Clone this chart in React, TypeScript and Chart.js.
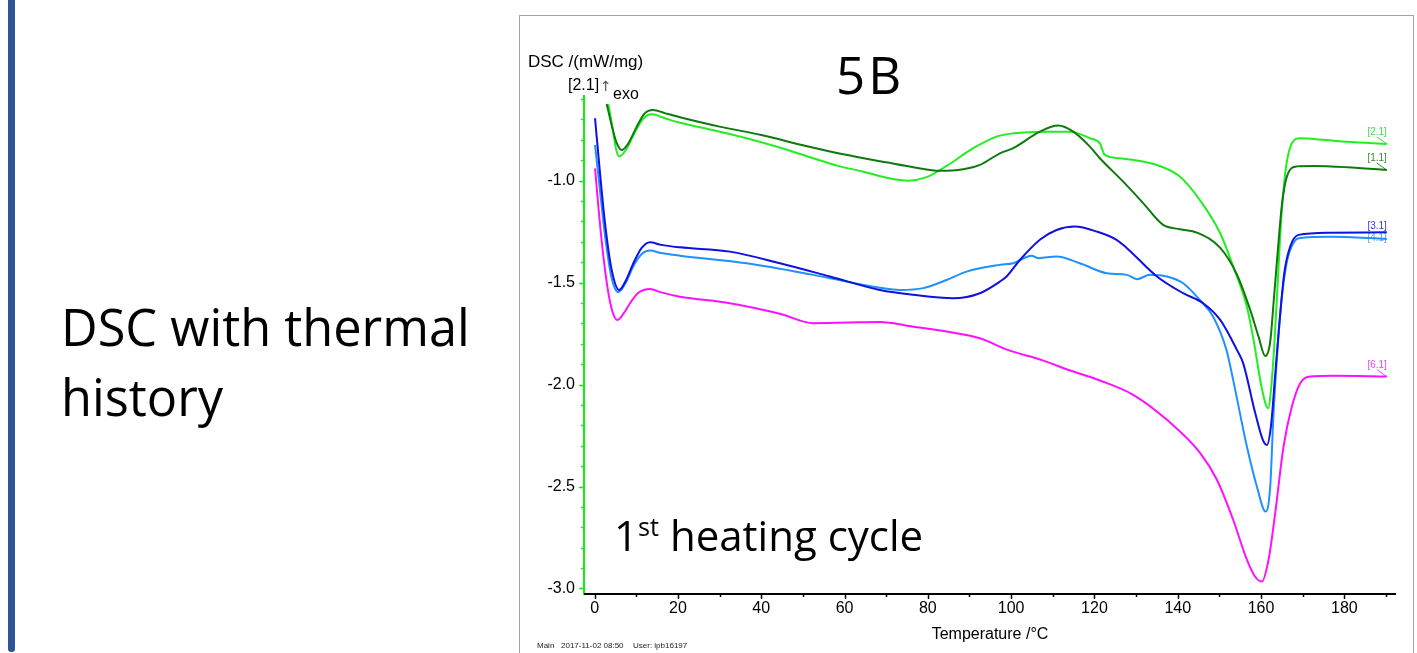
import React, { useEffect, useRef } from "react";
import { Chart, registerables } from "chart.js";

Chart.register(...registerables);

// ---------- data ----------
const seriesLabels = ["[1.1]", "[2.1]", "[3.1]", "[4.1]", "[6.1]"];

const temp11 = [2.9, 4.0, 5.2, 6.5, 8.0, 10.0, 12.0, 14.0, 17.0, 20.5, 30, 40, 50, 60, 70, 76.5, 82.9, 88.5, 92.5, 97.3, 100.5, 106.9, 111.3, 114.9, 118.9, 121.3, 126.9, 131.7, 136.5, 140.6, 144.6, 150.2, 154.2, 157.4, 159.4, 161.0, 162.2, 163.0, 164.0, 165.0, 166.2, 168.6, 172.6, 180.6, 190.2];
const dsc11 = [-0.624, -0.72, -0.81, -0.85, -0.82, -0.74, -0.67, -0.653, -0.67, -0.689, -0.735, -0.776, -0.826, -0.872, -0.91, -0.934, -0.952, -0.944, -0.923, -0.866, -0.841, -0.76, -0.73, -0.76, -0.833, -0.89, -1.005, -1.11, -1.217, -1.238, -1.255, -1.33, -1.46, -1.634, -1.765, -1.86, -1.79, -1.6, -1.35, -1.12, -0.98, -0.93, -0.928, -0.934, -0.948];

const temp21 = [3.3, 4.3, 5.2, 5.9, 7.5, 9.5, 11.5, 13.7, 17, 20.5, 28, 36.5, 44, 52.5, 58, 64.5, 70, 75.3, 79.7, 84.5, 90.9, 96.5, 100.5, 108.5, 114.1, 118.9, 121.3, 122.5, 126.1, 135.7, 140.5, 145.3, 150.2, 153.3, 156.6, 158.2, 160.2, 161.7, 162.5, 163.2, 164.0, 164.8, 165.8, 167.4, 169.4, 175, 180.6, 190.2];
const dsc21 = [-0.625, -0.74, -0.85, -0.882, -0.85, -0.77, -0.7, -0.675, -0.695, -0.716, -0.75, -0.792, -0.835, -0.89, -0.925, -0.956, -0.985, -1.0, -0.983, -0.928, -0.841, -0.784, -0.768, -0.76, -0.76, -0.792, -0.817, -0.874, -0.89, -0.928, -0.98, -1.095, -1.258, -1.42, -1.618, -1.78, -2.02, -2.116, -2.0, -1.8, -1.5, -1.2, -0.964, -0.817, -0.792, -0.8, -0.809, -0.82];

const temp31 = [0.1, 1.3, 2.5, 4.1, 5.9, 7.5, 9.3, 11.3, 13.3, 16, 20.5, 32.5, 44.5, 56.5, 68.5, 76.5, 86.1, 92.5, 97.3, 98.9, 102.1, 106.9, 110.9, 115.3, 120.6, 125.3, 127.8, 135, 141.3, 146.1, 150.2, 154.2, 155.7, 158.6, 160.4, 161.4, 162.4, 163.4, 164.4, 165.6, 167, 169, 176.6, 190.2];
const dsc31 = [-0.694, -0.964, -1.209, -1.438, -1.536, -1.49, -1.405, -1.33, -1.302, -1.315, -1.327, -1.348, -1.405, -1.47, -1.536, -1.56, -1.577, -1.552, -1.495, -1.47, -1.389, -1.29, -1.242, -1.225, -1.25, -1.29, -1.331, -1.47, -1.552, -1.601, -1.683, -1.83, -1.895, -2.14, -2.27, -2.296, -2.2, -1.95, -1.7, -1.45, -1.323, -1.266, -1.255, -1.253];

const temp41 = [0.1, 1.3, 2.5, 4.0, 5.7, 7.5, 9.3, 11.3, 13.3, 16, 20.5, 36.5, 52.5, 66.9, 73.3, 78.9, 84.5, 89.3, 97.3, 100.5, 104.9, 106.5, 110.9, 116.5, 123, 127.8, 130.2, 133.3, 137.4, 141.3, 145.3, 148.5, 151.7, 153.3, 156.6, 159, 161.1, 162.2, 163, 164, 165, 166, 167, 169, 176.6, 190.2];
const dsc41 = [-0.825, -1.05, -1.27, -1.47, -1.547, -1.5, -1.42, -1.36, -1.343, -1.355, -1.368, -1.405, -1.462, -1.52, -1.536, -1.527, -1.487, -1.446, -1.413, -1.405, -1.368, -1.38, -1.372, -1.405, -1.454, -1.462, -1.483, -1.462, -1.47, -1.503, -1.585, -1.667, -1.83, -1.977, -2.304, -2.5, -2.623, -2.5, -2.14, -1.814, -1.569, -1.42, -1.34, -1.282, -1.275, -1.286];

const temp61 = [0.1, 1.0, 2.1, 3.3, 4.4, 5.5, 7.0, 8.5, 10.5, 13.3, 16, 20.5, 32.5, 44.5, 52.5, 60.5, 68.5, 76.5, 84.5, 92.5, 99.2, 107.4, 114, 121.3, 129.3, 137.4, 145.4, 149.4, 153.3, 156.6, 158.5, 160.2, 161.8, 163.4, 165.4, 167.4, 169.4, 171.8, 177.4, 190.2];
const dsc61 = [-0.94, -1.15, -1.372, -1.55, -1.65, -1.683, -1.65, -1.601, -1.55, -1.531, -1.548, -1.569, -1.601, -1.653, -1.699, -1.696, -1.693, -1.716, -1.74, -1.773, -1.83, -1.88, -1.93, -1.98, -2.05, -2.173, -2.336, -2.467, -2.663, -2.859, -2.94, -2.966, -2.859, -2.63, -2.304, -2.108, -1.993, -1.961, -1.957, -1.961];

const xTickValues = [0, 20, 40, 60, 80, 100, 120, 140, 160, 180];
const yTickValues = [-1.0, -1.5, -2.0, -2.5, -3.0];

// ---------- styles ----------
const lineColors = ["#0E7A0E", "#22EE22", "#1010E0", "#2090FF", "#FF10FF"];
const labelColors = ["#3A8A3A", "#44DD44", "#3535E8", "#55A8FF", "#EE44EE"];
const labelDy = [-9, -9, -3, 2, -9];
const labelLeader = [true, true, false, false, true];
const FONT = '"Liberation Sans", Arial, sans-serif';

const toPoints = (xs: number[], ys: number[]) => xs.map((x, i) => ({ x, y: ys[i] }));

const axesPlugin = {
  id: "dscAxes",
  beforeDatasetsDraw(chart: any) {
    const { ctx } = chart;
    ctx.save();
    chart.data.datasets.forEach((ds: any, i: number) => {
      const meta = chart.getDatasetMeta(i);
      const pt = meta.data[meta.data.length - 1];
      if (!pt) return;
      ctx.font = `10px ${FONT}`;
      ctx.fillStyle = labelColors[i];
      ctx.textAlign = "right";
      ctx.textBaseline = "alphabetic";
      ctx.fillText(ds.label, pt.x, pt.y + labelDy[i]);
      if (labelLeader[i]) {
        ctx.strokeStyle = labelColors[i];
        ctx.lineWidth = 1;
        ctx.beginPath();
        ctx.moveTo(pt.x - 10, pt.y - 7);
        ctx.lineTo(pt.x, pt.y);
        ctx.stroke();
      }
    });
    ctx.restore();
  },
  afterDraw(chart: any) {
    const { ctx, chartArea: ca, scales } = chart;
    const xs = scales.x;
    const ys = scales.y;
    ctx.save();
    // y axis (green)
    ctx.strokeStyle = "#10EE10";
    ctx.lineWidth = 2;
    ctx.beginPath();
    ctx.moveTo(ca.left, ca.top);
    ctx.lineTo(ca.left, ca.bottom + 1);
    ctx.stroke();
    ctx.lineWidth = 1.5;
    for (let k = -30; k <= -6; k++) {
      const v = k / 10;
      const py = Math.round(ys.getPixelForValue(v)) + 0.5;
      const len = k % 5 === 0 ? 5 : 3;
      ctx.beginPath();
      ctx.moveTo(ca.left - len, py);
      ctx.lineTo(ca.left, py);
      ctx.stroke();
    }
    // x axis (black)
    ctx.strokeStyle = "#000";
    ctx.lineWidth = 2;
    ctx.beginPath();
    ctx.moveTo(ca.left, ca.bottom);
    ctx.lineTo(ca.right, ca.bottom);
    ctx.stroke();
    ctx.lineWidth = 1.5;
    for (let t = 0; t <= 190; t += 10) {
      const px = Math.round(xs.getPixelForValue(t)) + 0.5;
      const len = t % 20 === 0 ? 5 : 3;
      ctx.beginPath();
      ctx.moveTo(px, ca.bottom);
      ctx.lineTo(px, ca.bottom + len);
      ctx.stroke();
    }
    ctx.restore();
  },
};

export default function App() {
  const canvasRef = useRef<HTMLCanvasElement | null>(null);

  useEffect(() => {
    if (!canvasRef.current) return;
    const pairs = [
      [temp11, dsc11],
      [temp21, dsc21],
      [temp31, dsc31],
      [temp41, dsc41],
      [temp61, dsc61],
    ];
    const chart = new Chart(canvasRef.current, {
      type: "line",
      data: {
        datasets: pairs.map((p, i) => ({
          label: seriesLabels[i],
          data: toPoints(p[0], p[1]),
          borderColor: lineColors[i],
          backgroundColor: lineColors[i],
          borderWidth: 2,
          pointRadius: 0,
          cubicInterpolationMode: "monotone" as const,
          fill: false,
        })),
      },
      options: {
        animation: false,
        responsive: false,
        maintainAspectRatio: false,
        layout: { padding: { top: 95, right: 21, left: 0, bottom: 0 } },
        plugins: { legend: { display: false }, tooltip: { enabled: false }, title: { display: false } },
        scales: {
          x: {
            type: "linear",
            min: -2.55,
            max: 192.4,
            grid: { display: false, drawTicks: false },
            border: { display: false },
            afterBuildTicks: (s: any) => {
              s.ticks = xTickValues.map((v) => ({ value: v }));
            },
            afterFit: (s: any) => {
              s.height = 59;
            },
            ticks: {
              padding: 5,
              color: "#000",
              maxRotation: 0,
              autoSkip: false,
              font: { family: FONT, size: 16 },
              callback: (v: any) => String(v),
            },
            title: {
              display: true,
              text: "Temperature /°C",
              color: "#000",
              font: { family: FONT, size: 16 },
              padding: { top: 0, bottom: 9 },
            },
          },
          y: {
            type: "linear",
            min: -3.027,
            max: -0.58,
            grid: { display: false, drawTicks: false },
            border: { display: false },
            afterBuildTicks: (s: any) => {
              s.ticks = yTickValues.map((v) => ({ value: v }));
            },
            afterFit: (s: any) => {
              s.width = 584;
            },
            ticks: {
              padding: 9,
              color: "#000",
              autoSkip: false,
              font: { family: FONT, size: 16 },
              callback: (v: any) => Number(v).toFixed(1),
            },
          },
        },
      },
      plugins: [axesPlugin],
    });
    return () => chart.destroy();
  }, []);

  const abs = (s: React.CSSProperties): React.CSSProperties => ({ position: "absolute", whiteSpace: "pre", margin: 0, ...s });

  return (
    <div style={{ position: "fixed", left: 0, top: 0, width: 1417, height: 653, background: "#fff", overflow: "hidden" }}>
      <div style={abs({ left: 8, top: -4, width: 7, height: 656, background: "#2F5597", borderRadius: 3 })} />
      <div
        style={abs({
          left: 519,
          top: 15,
          width: 895,
          height: 700,
          boxSizing: "border-box",
          border: "1.5px solid #A5A5A5",
        })}
      />
      <div style={abs({ left: 61, top: 292, fontFamily: '"Open Sans", sans-serif', fontSize: 50.5, lineHeight: "70px", color: "#000" })}>
        {"DSC with thermal\nhistory"}
      </div>
      <canvas ref={canvasRef} width={1417} height={653} style={abs({ left: 0, top: 0, width: 1417, height: 653 })} />
      <div style={abs({ left: 836, top: 49, fontFamily: '"Open Sans", sans-serif', fontSize: 51, lineHeight: "50px", letterSpacing: 3, color: "#000" })}>5B</div>
      <div style={abs({ left: 614, top: 514, fontFamily: '"Open Sans", sans-serif', fontSize: 42, lineHeight: "42px", color: "#000" })}>
        1<span style={{ fontSize: "60%", position: "relative", top: -15 }}>st</span> heating cycle
      </div>
      <div style={abs({ left: 528, top: 53, fontFamily: FONT, fontSize: 17, lineHeight: "17px", color: "#000" })}>DSC /(mW/mg)</div>
      <div style={abs({ left: 568, top: 77, fontFamily: FONT, fontSize: 16, lineHeight: "16px", color: "#000" })}>[2.1]</div>
      <div style={abs({ left: 600, top: 79, fontFamily: '"DejaVu Sans", sans-serif', fontSize: 14, lineHeight: "14px", color: "#555" })}>↑</div>
      <div style={abs({ left: 613, top: 86, fontFamily: FONT, fontSize: 16, lineHeight: "16px", color: "#000" })}>exo</div>
      <div style={abs({ left: 537, top: 641, fontFamily: FONT, fontSize: 8, lineHeight: "10px", color: "#222" })}>Main</div>
      <div style={abs({ left: 561, top: 641, fontFamily: FONT, fontSize: 8, lineHeight: "10px", color: "#222" })}>2017-11-02 08:50</div>
      <div style={abs({ left: 633, top: 641, fontFamily: FONT, fontSize: 8, lineHeight: "10px", color: "#222" })}>User: lpb16197</div>
    </div>
  );
}
